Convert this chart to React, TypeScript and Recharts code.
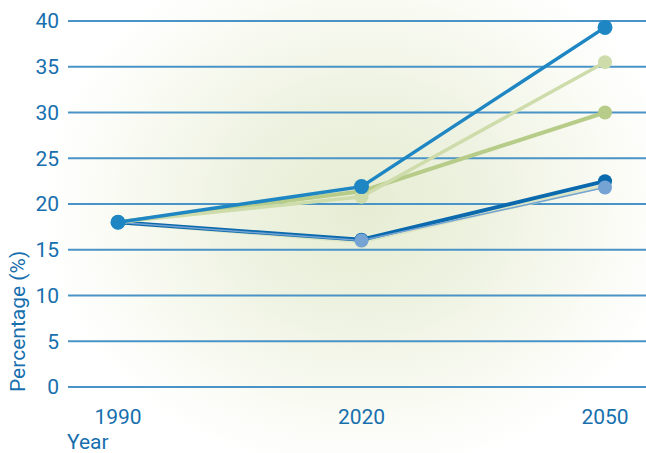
import { CartesianGrid, Line, LineChart, XAxis, YAxis } from 'recharts'

const years = ['1990', '2020', '2050']
const yTicks = [0, 5, 10, 15, 20, 25, 30, 35, 40]

// six scenario series, one value per year
const paleGreenSeries = [18, 15.9, 22.0]
const darkBlueSeries = [18, 16.1, 22.5]
const lightBlueSeries = [18, 16.0, 21.8]
const greenSeries = [18, 21.4, 30.0]
const lightGreenSeries = [18, 20.8, 35.5]
const midBlueSeries = [18, 21.9, 39.3]

const data = years.map((year, i) => ({
  year,
  paleGreen: paleGreenSeries[i],
  darkBlue: darkBlueSeries[i],
  lightBlue: lightBlueSeries[i],
  green: greenSeries[i],
  lightGreen: lightGreenSeries[i],
  midBlue: midBlueSeries[i],
}))

const FONT = 'Roboto, "DejaVu Sans", sans-serif'
const TEXT = '#176fae'
const FONT_SIZE = 21

// light blue goes on top of dark blue so its end marker stays visible
const seriesStyle = [
  { key: 'paleGreen', color: '#dce6c4', width: 4, r: 6.5 },
  { key: 'darkBlue', color: '#0b69ad', width: 4, r: 7 },
  { key: 'lightBlue', color: '#74a3d4', width: 1.5, r: 7 },
  { key: 'green', color: '#b7cc88', width: 4, r: 7 },
  { key: 'lightGreen', color: '#cddcaa', width: 3.5, r: 7 },
  { key: 'midBlue', color: '#1e86c3', width: 3.5, r: 7.5 },
]

function XTick({ x, y, payload }: any) {
  return (
    <text x={x} y={y} dy="0.71em" textAnchor="middle" fill={TEXT} fontFamily={FONT} fontSize={FONT_SIZE}>
      {payload.value}
    </text>
  )
}

function YTick({ x, y, payload }: any) {
  return (
    <text x={x} y={y} dy="0.355em" textAnchor="end" fill={TEXT} fontFamily={FONT} fontSize={FONT_SIZE}>
      {payload.value}
    </text>
  )
}

function YearLabel({ viewBox }: any) {
  return (
    <text x={viewBox.x - 1} y={viewBox.y + 62} fill={TEXT} fontFamily={FONT} fontSize={FONT_SIZE}>
      Year
    </text>
  )
}

function PercentLabel() {
  return (
    <text
      x={25}
      y={392}
      transform="rotate(-90, 25, 392)"
      fill={TEXT}
      fontFamily={FONT}
      fontSize={FONT_SIZE}
      textAnchor="start"
    >
      Percentage (%)
    </text>
  )
}

export default function App() {
  return (
    <div
      style={{
        position: 'absolute',
        left: 0,
        top: 0,
        width: 646,
        height: 453,
        background:
          'radial-gradient(ellipse 320px 270px at 362px 205px, #e6edd3 0%, #eef2e1 40%, #f8faf1 72%, #ffffff 100%)',
      }}
    >
      <LineChart
        width={646}
        height={453}
        data={data}
        margin={{ top: 21, right: 0, left: 0, bottom: 36 }}
      >
        <CartesianGrid vertical={false} stroke="#4a93c6" strokeWidth={2} />
        <XAxis
          dataKey="year"
          padding={{ left: 50, right: 41 }}
          axisLine={false}
          tickLine={false}
          tickMargin={16}
          height={30}
          tick={<XTick />}
          label={<YearLabel />}
        />
        <YAxis
          domain={[0, 40]}
          ticks={yTicks}
          width={68}
          axisLine={false}
          tickLine={false}
          tickMargin={3}
          tick={<YTick />}
          label={<PercentLabel />}
        />
        {seriesStyle.map((s) => (
          <Line
            key={s.key}
            dataKey={s.key}
            stroke={s.color}
            strokeWidth={s.width}
            dot={{ r: s.r, fill: s.color, stroke: 'none' }}
            activeDot={false}
            isAnimationActive={false}
          />
        ))}
      </LineChart>
    </div>
  )
}
